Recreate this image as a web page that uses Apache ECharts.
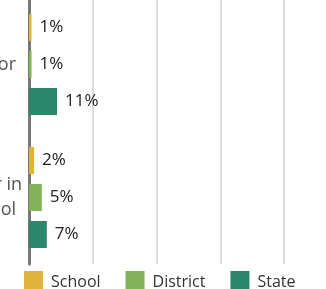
<!DOCTYPE html>
<html>
<head>
<meta charset="utf-8">
<script src="https://cdn.jsdelivr.net/npm/echarts@6/dist/echarts.min.js"></script>
<style>
  html, body { margin: 0; padding: 0; background: #fff; }
  #chart { width: 326px; height: 289px; }
</style>
</head>
<body>
<div id="chart"></div>
<script>
// categories (left labels are cut off in the reference)
const categories = ['Counselor', 'Teacher in\nschool'];
const seriesNames = ['School', 'District', 'State'];
const schoolValues = [1, 2];
const districtValues = [1, 5];
const stateValues = [11, 7];
const xTicks = [0, 25, 50, 75, 100];

const colors = ['#e0b43a', '#84b25a', '#2a876c'];

let chart = echarts.init(document.getElementById('chart'));

function makeSeries(name, data) {
  return {
    name: name,
    type: 'bar',
    data: data,
    barWidth: 27,
    barGap: '37%',
    label: {
      show: true,
      position: 'right',
      distance: 8,
      formatter: '{c}%',
      fontFamily: 'Open Sans',
      fontSize: 17,
      color: '#222'
    }
  };
}

let option = {
  color: colors,
  animation: false,
  textStyle: { fontFamily: 'Open Sans' },
  grid: {
    left: 29, right: 42, top: -2, bottom: 289 - 264,
    containLabel: false, outerBoundsMode: 'none'
  },
  legend: {
    data: seriesNames,
    left: 24,
    top: 271,
    padding: 0,
    icon: 'rect',
    itemWidth: 19,
    itemHeight: 22,
    itemGap: 25,
    textStyle: { fontSize: 16, color: '#333', padding: [0, 0, 0, 3] }
  },
  xAxis: {
    type: 'value',
    min: xTicks[0],
    max: xTicks[xTicks.length - 1],
    interval: 25,
    axisLine: { show: false },
    axisTick: { show: false },
    axisLabel: { show: false },
    splitLine: { lineStyle: { color: '#dcdcdc', width: 2 } }
  },
  yAxis: {
    type: 'category',
    data: categories,
    inverse: true,
    axisLine: { show: true, lineStyle: { color: '#777', width: 3 } },
    axisTick: { show: false },
    axisLabel: {
      margin: 7,
      fontSize: 18,
      lineHeight: 25,
      color: '#555',
      formatter: function (v) {
        let lines = v.split('\n');
        if (lines.length === 1) return '{b|' + v + '}';
        return '{a|' + lines[0] + '}\n{b|' + lines[1] + '}';
      },
      rich: {
        a: { fontSize: 18, color: '#555', lineHeight: 25 },
        b: { fontSize: 18, color: '#555', lineHeight: 25, padding: [0, 6, 0, 0] }
      }
    }
  },
  series: [
    makeSeries(seriesNames[0], schoolValues),
    makeSeries(seriesNames[1], districtValues),
    makeSeries(seriesNames[2], stateValues)
  ]
};

chart.setOption(option);
</script>
</body>
</html>
